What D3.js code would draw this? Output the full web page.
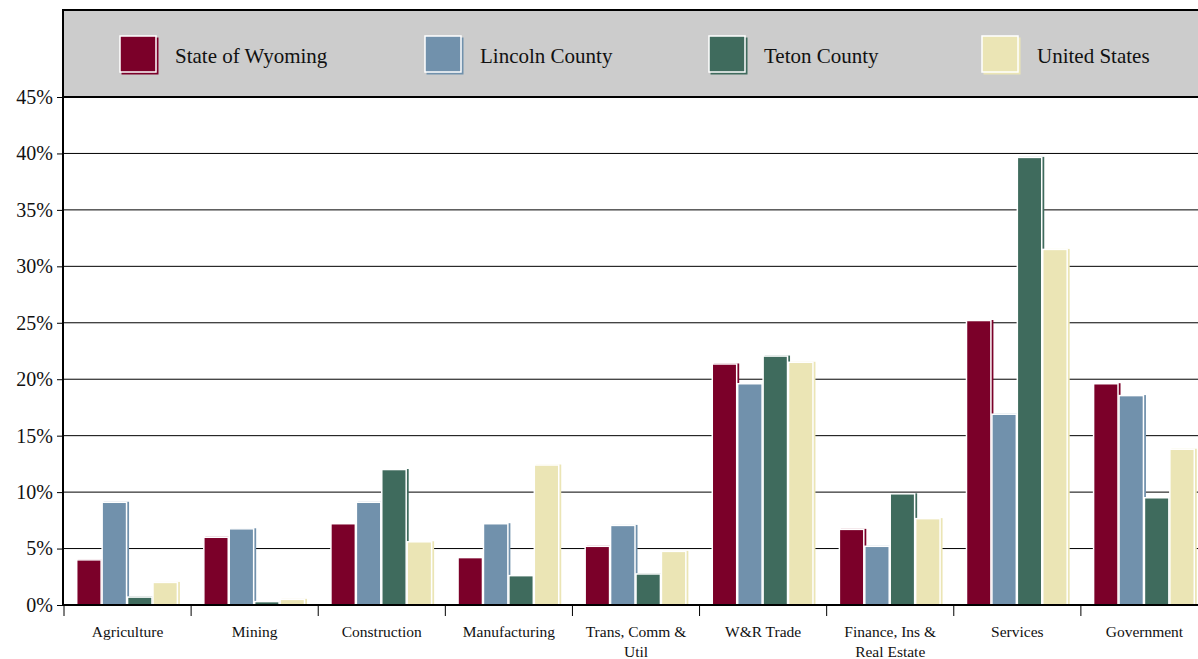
<!DOCTYPE html>
<html>
<head>
<meta charset="utf-8">
<script src="https://cdn.jsdelivr.net/npm/d3@7"></script>
<style>
  html, body { margin: 0; padding: 0; background: #fff; }
  svg { display: block; }
  text { font-family: "Liberation Serif", "Times New Roman", serif; fill: #111; }
</style>
</head>
<body>
<svg id="chart" width="1198" height="659"></svg>
<script>
const categories = ["Agriculture", "Mining", "Construction", "Manufacturing", "Trans, Comm & Util",
  "W&R Trade", "Finance, Ins & Real Estate", "Services", "Government"];
const categoryLines = [["Agriculture"], ["Mining"], ["Construction"], ["Manufacturing"],
  ["Trans, Comm &", "Util"], ["W&R Trade"], ["Finance, Ins &", "Real Estate"], ["Services"], ["Government"]];
const seriesNames = ["State of Wyoming", "Lincoln County", "Teton County", "United States"];
const wyoming = [4.0, 6.0, 7.2, 4.2, 5.2, 21.35, 6.7, 25.2, 19.6];
const lincoln = [9.1, 6.75, 9.1, 7.2, 7.05, 19.6, 5.2, 16.9, 18.55];
const teton   = [0.7, 0.3, 12.0, 2.6, 2.75, 22.05, 9.85, 39.65, 9.5];
const usa     = [2.0, 0.5, 5.6, 12.4, 4.75, 21.5, 7.65, 31.5, 13.8];
const yTicks = [0, 5, 10, 15, 20, 25, 30, 35, 40, 45];
const colors = ["#7B0029", "#7191AC", "#3F6B5D", "#EBE5B5"];

const seriesValues = [wyoming, lincoln, teton, usa];

const svg = d3.select("#chart");
const mLeft = 63, mTop = 10, y0 = 605, y45 = 97;

const x = d3.scaleBand().domain(categories).range([64, 1208]).paddingInner(0).paddingOuter(0);
const xInner = d3.scaleBand().domain(seriesNames).range([0, x.bandwidth()]).paddingOuter(0.5).paddingInner(0);
const y = d3.scaleLinear().domain([0, 45]).range([y0, y45]);

// legend box
svg.append("rect").attr("x", mLeft).attr("y", mTop).attr("width", 1198 - mLeft + 5).attr("height", y45 - mTop)
  .attr("fill", "#cccccc").attr("stroke", "#000").attr("stroke-width", 2);

// grid lines
svg.append("g").selectAll("line").data(yTicks.filter(d => d > 0 && d < 45)).join("line")
  .attr("x1", mLeft).attr("x2", 1198).attr("y1", d => y(d)).attr("y2", d => y(d))
  .attr("stroke", "#000").attr("stroke-width", 1);

// y axis
const yAxis = d3.axisLeft(y).tickValues(yTicks).tickFormat(d => d + "%").tickSize(6).tickPadding(4);
const gy = svg.append("g").attr("transform", `translate(${mLeft},0)`).call(yAxis);
gy.select(".domain").remove();
gy.selectAll("line").attr("stroke", "#000");
gy.selectAll("text").style("font-size", "20px").style("font-family", "Liberation Serif, serif").attr("fill", "#111");
svg.append("line").attr("x1", mLeft).attr("x2", mLeft).attr("y1", mTop).attr("y2", y0)
  .attr("stroke", "#000").attr("stroke-width", 2);

// bars
const groups = svg.append("g").selectAll("g").data(categories).join("g")
  .attr("transform", d => `translate(${x(d)},0)`);
groups.each(function(cat, ci) {
  const g = d3.select(this);
  seriesNames.forEach((s, si) => {
    const v = seriesValues[si][ci];
    const bx = xInner(s), bw = xInner.bandwidth();
    // shadow
    g.append("rect").attr("x", bx + 1.5).attr("y", y(v) - 0.5).attr("width", bw).attr("height", y0 - y(v) + 0.5)
      .attr("fill", colors[si]);
    g.append("rect").attr("x", bx).attr("y", y(v)).attr("width", bw - 1).attr("height", y0 - y(v))
      .attr("fill", colors[si]).attr("stroke", "#fff").attr("stroke-width", 1.5);
  });
});

// x axis baseline and ticks
svg.append("line").attr("x1", mLeft).attr("x2", 1198).attr("y1", y0).attr("y2", y0)
  .attr("stroke", "#000").attr("stroke-width", 2);
svg.append("g").selectAll("line").data(categories).join("line")
  .attr("x1", d => x(d)).attr("x2", d => x(d)).attr("y1", y0).attr("y2", y0 + 11)
  .attr("stroke", "#000").attr("stroke-width", 1);

// category labels
svg.append("g").selectAll("text").data(categories).join("text")
  .attr("x", d => x(d) + x.bandwidth() / 2)
  .attr("y", 637)
  .attr("text-anchor", "middle")
  .style("font-size", "15.5px")
  .each(function(d, i) {
    const t = d3.select(this);
    categoryLines[i].forEach((line, li) => {
      t.append("tspan").attr("x", x(d) + x.bandwidth() / 2).attr("dy", li === 0 ? 0 : 20).text(line);
    });
  });

// legend
const legendX = [120, 425, 709, 982];
const lg = svg.append("g").selectAll("g").data(seriesNames).join("g")
  .attr("transform", (d, i) => `translate(${legendX[i]},36)`);
lg.append("rect").attr("x", 1.5).attr("y", 1.5).attr("width", 37).attr("height", 37).attr("fill", (d, i) => colors[i]);
lg.append("rect").attr("x", 0).attr("y", 0).attr("width", 36).attr("height", 36)
  .attr("fill", (d, i) => colors[i]).attr("stroke", "#fff").attr("stroke-width", 1.5);
lg.append("text").attr("x", 55).attr("y", 27).style("font-size", "21px").text(d => d);
</script>
</body>
</html>
